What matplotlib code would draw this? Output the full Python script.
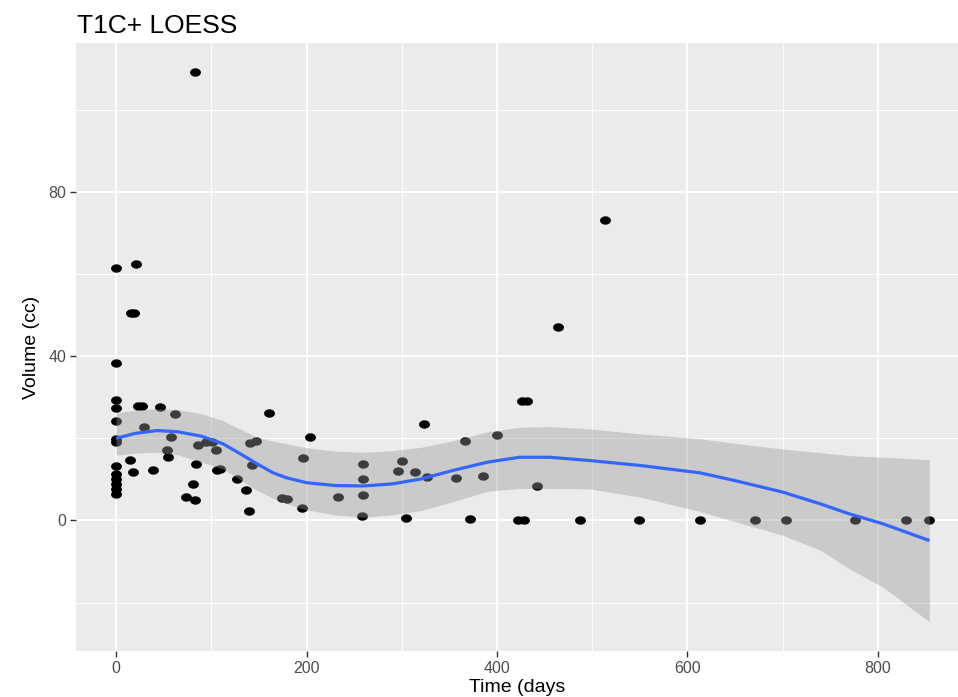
import numpy as np
import matplotlib
matplotlib.use("Agg")
import matplotlib.pyplot as plt
from matplotlib.path import Path

plt.rcParams["font.family"] = ["Liberation Sans", "DejaVu Sans"]

# observed tumour volumes (days, cc)
days = [0, 0, 0, 0, 0, 0, 0, 0, 0, 0, 0, 0, 0,
        20.7, 16, 19, 23, 27, 46, 62, 29, 58, 54, 55, 14.7, 18, 39,
        84.5, 86, 95, 101, 105.5, 106, 109, 81, 74, 83, 126.6, 137, 140,
        143, 141, 147.5, 160.5, 174, 180, 83, 204, 196.6, 195, 233,
        259.5, 259.5, 259.5, 258, 300, 296, 314, 326, 304, 323, 366, 357,
        385.4, 400, 371.5, 426, 431, 464.5, 513, 442, 422, 428, 487.6, 549,
        613.5, 670.5, 703.7, 775.4, 829.7, 853.4]
volume = [61.5, 38.4, 29.3, 27.4, 24.3, 19.8, 19.0, 13.2, 11.4, 10.0, 8.8, 7.7, 6.4,
          62.4, 50.5, 50.5, 28.0, 28.0, 27.6, 26.0, 22.8, 20.3, 17.2, 15.4, 14.8, 11.9, 12.2,
          13.8, 18.5, 19.0, 19.0, 17.2, 12.2, 12.6, 8.8, 5.7, 5.0, 10.1, 7.3, 2.2,
          13.4, 18.9, 19.4, 26.1, 5.5, 5.2, 109.3, 20.3, 15.3, 3.1, 5.7,
          13.8, 10.0, 6.1, 1.0, 14.6, 12.1, 11.9, 10.5, 0.6, 23.4, 19.4, 10.4,
          10.8, 20.9, 0.3, 29.2, 29.2, 47.0, 73.2, 8.3, 0, 0, 0, 0,
          0, 0, 0, 0, 0, 0]

# LOESS fit and confidence band
fit_x = [0, 20, 43, 65, 90, 112, 130, 148, 165, 179, 200, 230, 260, 290, 320,
         354, 390, 424, 455, 497, 550, 613, 650, 700, 740, 770, 805, 854]
fit_y = [20.0, 21.2, 21.9, 21.6, 20.5, 18.7, 16.3, 13.8, 11.6, 10.4, 9.2, 8.5, 8.4, 8.9, 10.1,
         12.2, 14.2, 15.4, 15.4, 14.6, 13.4, 11.6, 9.7, 6.9, 4.0, 1.6, -0.8, -4.9]
fit_lo = [15.9, 16.4, 16.6, 16.0, 14.2, 12.6, 10.0, 7.3, 5.4, 4.1, 2.6, 1.3, 0.8, 1.4, 2.4,
          4.6, 7.1, 7.8, 7.8, 7.7, 5.7, 2.2, -0.3, -3.6, -7.3, -11.8, -16.2, -24.7]
fit_hi = [26.2, 26.9, 27.2, 27.0, 26.0, 24.3, 22.3, 20.3, 19.3, 18.7, 17.7, 16.9, 16.6, 17.0, 17.8,
          19.4, 21.6, 22.7, 22.9, 22.3, 21.1, 19.9, 18.8, 17.4, 16.5, 15.8, 15.4, 14.8]

x_ticks = [0, 200, 400, 600, 800]
y_ticks = [0, 40, 80]

fig = plt.figure(figsize=(9.58, 6.97), dpi=100)
ax = fig.add_axes([76 / 958, 46 / 697, 882 / 958, 608 / 697])
ax.set_facecolor("#EBEBEB")

# slightly wide dots, as in the source image
t = np.linspace(0, 2 * np.pi, 40)
dot = Path(np.column_stack([1.35 * np.cos(t), np.sin(t)]), closed=True)

ax.plot(days, volume, linestyle="none", marker=dot, markersize=6.8,
        color="black", zorder=2)
ax.fill_between(fit_x, fit_lo, fit_hi, color="#999999", alpha=0.4, lw=0, zorder=3)
ax.plot(fit_x, fit_y, color="#3366FF", lw=2.3, zorder=4, solid_capstyle="butt")

ax.set_xlim(-42, 884)
ax.set_ylim(-31.8, 116.3)
ax.set_xticks(x_ticks)
ax.set_yticks(y_ticks)
ax.set_xticks([100, 300, 500, 700], minor=True)
ax.set_yticks([-20, 20, 60, 100], minor=True)
ax.grid(True, which="major", color="white", lw=1.3)
ax.grid(True, which="minor", color="white", lw=0.7)
ax.set_axisbelow(True)
for s in ax.spines.values():
    s.set_visible(False)
ax.tick_params(which="major", length=4, width=1, color="#333333",
               labelcolor="#4D4D4D", labelsize=11.5, pad=3)
ax.tick_params(which="minor", length=0)

ax.set_xlabel("Time (days", fontsize=14, labelpad=2)
ax.set_ylabel("Volume (cc)", fontsize=14, labelpad=6)
fig.text(77 / 958, 1 - 33 / 697, "T1C+ LOESS", fontsize=19, ha="left", va="baseline")

fig.savefig("out.png", dpi=100)
